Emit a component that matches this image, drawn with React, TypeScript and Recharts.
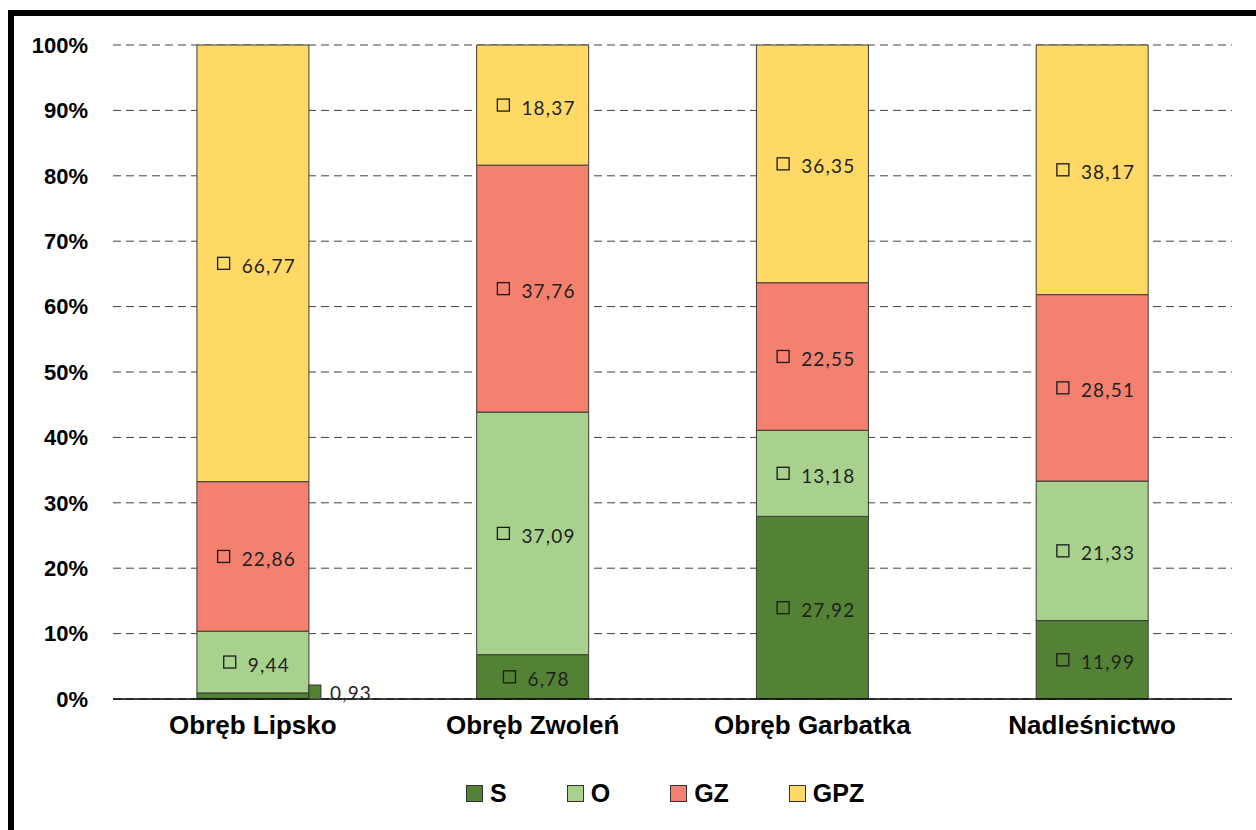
import * as React from "react";
import {
  BarChart,
  Bar,
  XAxis,
  YAxis,
  CartesianGrid,
  Legend,
  LabelList,
} from "recharts";

const categories = ["Obręb Lipsko", "Obręb Zwoleń", "Obręb Garbatka", "Nadleśnictwo"];
const sValues = [0.93, 6.78, 27.92, 11.99];
const oValues = [9.44, 37.09, 13.18, 21.33];
const gzValues = [22.86, 37.76, 22.55, 28.51];
const gpzValues = [66.77, 18.37, 36.35, 38.17];
const yTicks = [0, 10, 20, 30, 40, 50, 60, 70, 80, 90, 100];

const seriesNames = ["S", "O", "GZ", "GPZ"];
const seriesColors = ["#548235", "#A9D18E", "#F4806F", "#FFD966"];

const data = categories.map((name, i) => ({
  name,
  S: sValues[i],
  O: oValues[i],
  GZ: gzValues[i],
  GPZ: gpzValues[i],
}));

const fmt = (v: number) => v.toFixed(2).replace(".", ",");

const LABEL_FONT = "Lato, 'Open Sans', sans-serif";
const AXIS_FONT = "'Liberation Sans', Arial, sans-serif";

// label = small outlined square + value, centred in the segment
const makeLabel = (fill: string) => (props: any) => {
  const { x, y, width, height, value } = props;
  if (value == null) return null;
  const txt = fmt(Number(value));
  if (Number(value) < 2) {
    // too thin: put it outside, to the right of the bar
    const sx = Number(x) + Number(width);
    return (
      <g>
        <rect x={sx} y={Number(y) + Number(height) - 14} width={12} height={14} fill={fill} stroke="#333" strokeWidth={1} />
        <text x={sx + 21} y={Number(y) + Number(height) + 1} fontFamily={LABEL_FONT} fontSize={19} letterSpacing={1.2} fill="#262626">
          {txt}
        </text>
      </g>
    );
  }
  const digits = txt.replace(",", "").length;
  const textW = digits * 11 + 4.6 + txt.length * 1.2;
  const groupW = 12 + 12 + textW;
  const cx = Number(x) + Number(width) / 2 + 4;
  const cy = Number(y) + Number(height) / 2;
  const left = cx - groupW / 2;
  return (
    <g>
      <rect x={left} y={cy - 6} width={12} height={12} fill="none" stroke="#1a1a1a" strokeWidth={1.3} />
      <text
        x={left + 24}
        y={cy + 2}
        dominantBaseline="central"
        fontFamily={LABEL_FONT}
        fontSize={19}
        letterSpacing={1.2}
        fill="#1f1f1f"
      >
        {txt}
      </text>
    </g>
  );
};

const renderLegend = () => (
  <div style={{ height: 30, display: "flex", alignItems: "center", paddingLeft: 466 }}>
    {seriesNames.map((n, i) => (
      <div key={n} style={{ display: "flex", alignItems: "center", marginRight: 60 }}>
        <span
          style={{
            width: 15,
            height: 15,
            background: seriesColors[i],
            border: "1px solid #333",
            display: "inline-block",
            marginRight: 7,
          }}
        />
        <span style={{ fontFamily: AXIS_FONT, fontWeight: "bold", fontSize: 25, color: "#000", lineHeight: "30px" }}>
          {n}
        </span>
      </div>
    ))}
  </div>
);

export default function App() {
  return (
    <div style={{ position: "absolute", left: 0, top: 0, width: 1256, height: 830, overflow: "hidden", background: "#fff" }}>
      {/* frame of the original figure */}
      <div
        style={{
          position: "absolute",
          left: 8,
          top: 10,
          width: 1248,
          height: 820,
          borderTop: "6px solid #000",
          borderLeft: "6px solid #000",
          boxSizing: "border-box",
        }}
      />
      <div style={{ position: "absolute", left: 0, top: 0 }}>
        <BarChart
          width={1256}
          height={830}
          data={data}
          margin={{ top: 45, right: 24, left: 0, bottom: 22 }}
          barCategoryGap="30%"
        >
          <CartesianGrid vertical={false} stroke="#404040" strokeDasharray="8 5" />
          <XAxis
            dataKey="name"
            height={79}
            tickLine={false}
            tickSize={0}
            tickMargin={17}
            axisLine={{ stroke: "#000", strokeWidth: 1.5 }}
            tick={{ fontFamily: AXIS_FONT, fontWeight: "bold", fontSize: 26, fill: "#000" }}
          />
          <YAxis
            width={113}
            domain={[0, 100]}
            ticks={yTicks}
            tickFormatter={(v: number) => `${v}%`}
            axisLine={false}
            tickLine={false}
            tickSize={0}
            tickMargin={25}
            tick={{ fontFamily: AXIS_FONT, fontWeight: "bold", fontSize: 22, fill: "#000" }}
          />
          <Legend verticalAlign="bottom" content={renderLegend} />
          {seriesNames.map((n, i) => (
            <Bar key={n} dataKey={n} stackId="a" fill={seriesColors[i]} stroke="#3a3a3a" strokeWidth={1} isAnimationActive={false}>
              <LabelList dataKey={n} content={makeLabel(seriesColors[i])} />
            </Bar>
          ))}
        </BarChart>
      </div>
    </div>
  );
}
